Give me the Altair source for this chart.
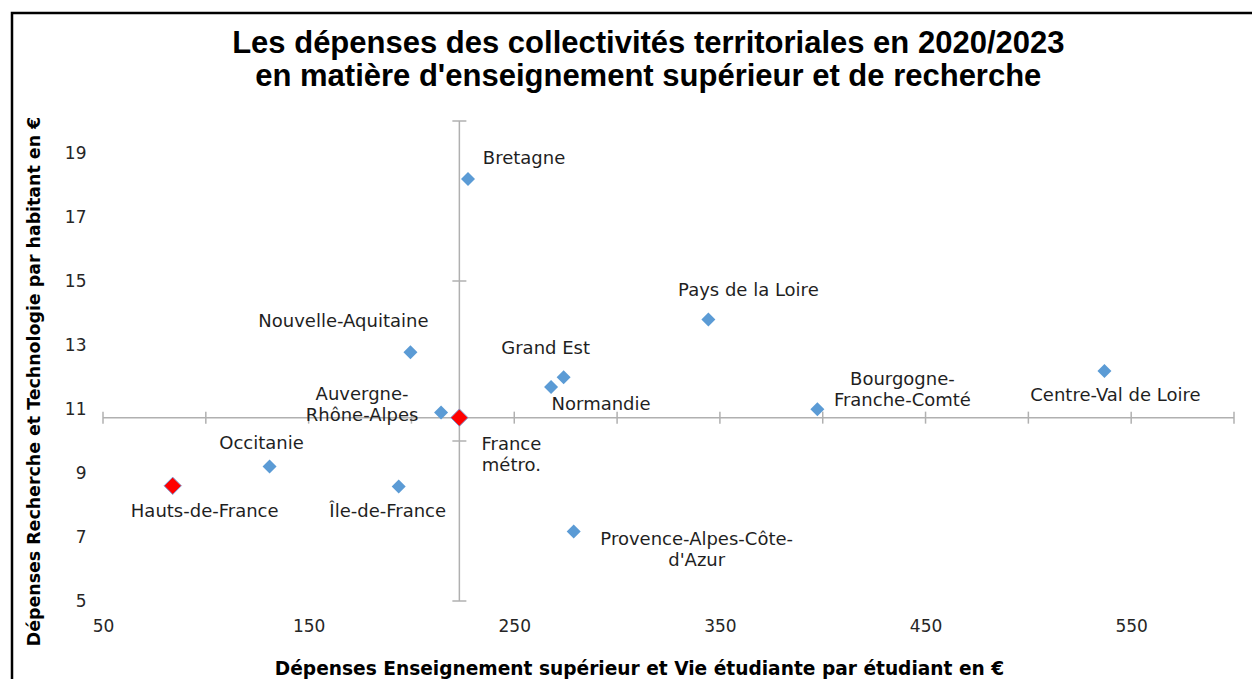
import altair as alt
import pandas as pd

# ---------------- data ----------------
TITLE_LINES = [
    "Les dépenses des collectivités territoriales en 2020/2023",
    "en matière d'enseignement supérieur et de recherche",
]
X_TITLE = "Dépenses Enseignement supérieur et Vie étudiante par étudiant en €"
Y_TITLE = "Dépenses Recherche et Technologie par habitant en €"

REGIONS = [
    "Bretagne", "Pays de la Loire", "Nouvelle-Aquitaine", "Grand Est",
    "Normandie", "Centre-Val de Loire", "Bourgogne-Franche-Comté",
    "Auvergne-Rhône-Alpes", "France métro.", "Occitanie",
    "Hauts-de-France", "Île-de-France", "Provence-Alpes-Côte-d'Azur",
]
ENS_SUP = [227.5, 344.4, 199.5, 274.0, 267.9, 537.0, 397.4,
           214.4, 223.3, 131.0, 83.9, 193.8, 278.9]
RECHERCHE = [18.19, 13.80, 12.77, 11.99, 11.69, 12.19, 10.99,
             10.89, 10.73, 9.20, 8.60, 8.58, 7.17]
HIGHLIGHT = ["France métro.", "Hauts-de-France"]
REFERENCE = "France métro."

X_DOMAIN = [50, 600]
Y_DOMAIN = [5, 20]
X_LABELS = [50, 150, 250, 350, 450, 550]
Y_LABELS = [5, 7, 9, 11, 13, 15, 17, 19]
X_TICKS = [50, 100, 150, 200, 250, 300, 350, 400, 450, 500, 550, 600]
Y_TICKS = [5, 10, 15, 20]

# label layout (text with line breaks, pixel offsets from point)
LABEL_TEXT = {
    "Bourgogne-Franche-Comté": "Bourgogne-\nFranche-Comté",
    "Auvergne-Rhône-Alpes": "Auvergne-\nRhône-Alpes",
    "France métro.": "France\nmétro.",
    "Provence-Alpes-Côte-d'Azur": "Provence-Alpes-Côte-\nd'Azur",
}
LABEL_OFFSET = {
    "Bretagne": (56, -20),
    "Pays de la Loire": (40, -28),
    "Nouvelle-Aquitaine": (-67, -30),
    "Grand Est": (-18, -28),
    "Normandie": (50, 18),
    "Centre-Val de Loire": (11, 25),
    "Bourgogne-Franche-Comté": (85, -29),
    "Auvergne-Rhône-Alpes": (-79, -18),
    "France métro.": (52, 27),
    "Occitanie": (-8, -23),
    "Hauts-de-France": (32, 26),
    "Île-de-France": (-11, 26),
    "Provence-Alpes-Côte-d'Azur": (123, 8),
}

# ---------------- chart ----------------
df = pd.DataFrame({"region": REGIONS, "ens": ENS_SUP, "rech": RECHERCHE})
ref_x = ENS_SUP[REGIONS.index(REFERENCE)]
ref_y = RECHERCHE[REGIONS.index(REFERENCE)]

W, H = 1131, 480
AXIS_COLOR = "#B0B0B0"
LABEL_FONT = "DejaVu Sans"

x_scale = alt.Scale(domain=X_DOMAIN, nice=False, zero=False)
y_scale = alt.Scale(domain=Y_DOMAIN, nice=False, zero=False)

x_axis = alt.Axis(
    values=X_LABELS, domain=False, ticks=False, grid=False, zindex=1,
    labelFont=LABEL_FONT, labelFontSize=17, labelColor="#262626",
    labelPadding=17, labelFlush=False, labelOverlap=False,
    title=X_TITLE, titleFont=LABEL_FONT, titleFontSize=18.6,
    titleFontWeight="bold", titleColor="#000000",
    titleX=536, titleY=73.7, titleAlign="center", titleBaseline="alphabetic",
)
y_axis = alt.Axis(
    values=Y_LABELS, domain=False, ticks=False, grid=False, zindex=1,
    labelFont=LABEL_FONT, labelFontSize=17, labelColor="#262626",
    labelPadding=17, labelFlush=False, labelOverlap=False,
    labelAlign="right", labelBaseline="middle",
    title=Y_TITLE, titleFont=LABEL_FONT, titleFontSize=17.4,
    titleFontWeight="bold", titleColor="#000000", titleAngle=270,
    titleX=-69, titleY=260, titleAlign="center", titleBaseline="middle",
)


def X(field):
    return alt.X(field, scale=x_scale, axis=x_axis)


def Y(field):
    return alt.Y(field, scale=y_scale, axis=y_axis)


blank = alt.Data(values=[{}])

frame = alt.Chart(blank).mark_rect(
    filled=False, color="black", strokeWidth=2.5
).encode(
    x=alt.value(-91), x2=alt.value(3000),
    y=alt.value(-108), y2=alt.value(3000),
)

ref_df = df[df["region"] == REFERENCE]

h_line = alt.Chart(ref_df).transform_calculate(
    x0=str(X_DOMAIN[0]), x1=str(X_DOMAIN[1])
).mark_rule(color=AXIS_COLOR, strokeWidth=1.5).encode(
    x=X("x0:Q"), x2="x1:Q", y=Y("rech:Q"),
)

v_line = alt.Chart(ref_df).transform_calculate(
    y0=str(Y_DOMAIN[0]), y1=str(Y_DOMAIN[1])
).mark_rule(color=AXIS_COLOR, strokeWidth=1.5).encode(
    x=X("ens:Q"), y=Y("y0:Q"), y2="y1:Q",
)

x_tick_df = pd.DataFrame({"v": X_TICKS, "c": [ref_y] * len(X_TICKS)})
y_tick_df = pd.DataFrame({"v": Y_TICKS, "c": [ref_x] * len(Y_TICKS)})

x_ticks = alt.Chart(x_tick_df).mark_tick(
    orient="vertical", size=12, thickness=1.5, color=AXIS_COLOR, opacity=1
).encode(x=X("v:Q"), y=Y("c:Q"))

y_ticks = alt.Chart(y_tick_df).mark_tick(
    orient="horizontal", size=14, thickness=1.5, color=AXIS_COLOR, opacity=1
).encode(x=X("c:Q"), y=Y("v:Q"))

points = alt.Chart(df).transform_filter(
    ~alt.FieldOneOfPredicate(field="region", oneOf=HIGHLIGHT)
).mark_point(
    shape="diamond", filled=True, size=196, fill="#5B9BD5", opacity=1
).encode(x=X("ens:Q"), y=Y("rech:Q"))

red_points = alt.Chart(df).transform_filter(
    alt.FieldOneOfPredicate(field="region", oneOf=HIGHLIGHT)
).mark_point(
    shape="diamond", filled=True, size=300, fill="#FF0000",
    stroke="#7F9ED4", strokeWidth=1, opacity=1
).encode(x=X("ens:Q"), y=Y("rech:Q"))

label_layers = []
for name in REGIONS:
    dx, dy = LABEL_OFFSET[name]
    label_layers.append(
        alt.Chart(df).transform_filter(
            alt.FieldEqualPredicate(field="region", equal=name)
        ).mark_text(
            font=LABEL_FONT, fontSize=18, color="#1F1F1F",
            align="center", baseline="middle", lineBreak="\n",
            lineHeight=21, dx=dx, dy=dy,
        ).encode(
            x=X("ens:Q"), y=Y("rech:Q"),
            text=alt.value(LABEL_TEXT.get(name, name)),
        )
    )

title = alt.Chart(blank).mark_text(
    font="Liberation Sans", fontSize=31, fontWeight="bold", color="#000000",
    align="center", baseline="alphabetic", lineBreak="\n", lineHeight=33,
).encode(
    x=alt.value(545.3), y=alt.value(-67.7),
    text=alt.value("\n".join(TITLE_LINES)),
)

chart = alt.layer(
    frame, h_line, v_line, x_ticks, y_ticks, points, red_points,
    *label_layers, title,
).properties(
    width=W, height=H,
    padding={"left": 95, "top": 113, "right": 18, "bottom": 78},
    autosize=alt.AutoSizeParams(type="none"),
    background="white",
).configure_view(strokeWidth=0)

chart.save("out.html", embed_options={"renderer": "svg", "actions": False})
